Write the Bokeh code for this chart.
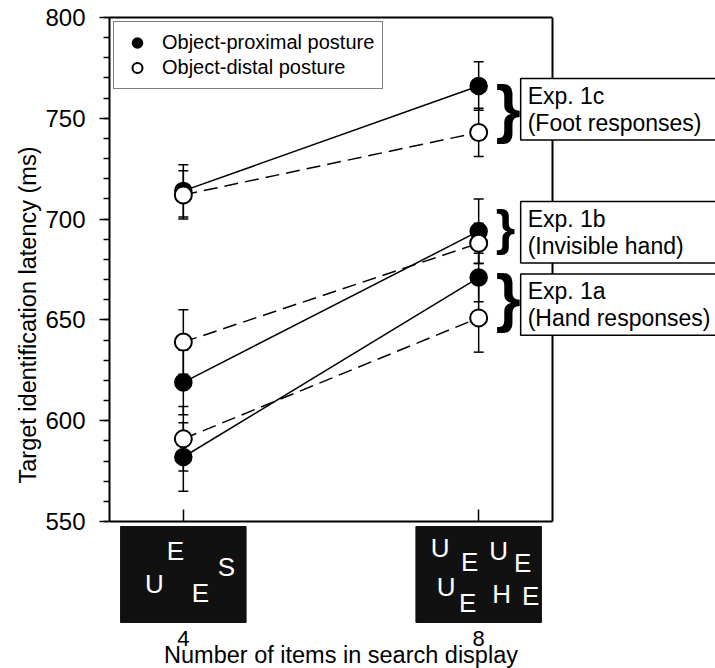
from bokeh.plotting import figure
from bokeh.models import (ColumnDataSource, Whisker, TeeHead, Label, Legend, LegendItem, Title,
                          FixedTicker, SingleIntervalTicker, Range1d, LinearAxis)
from bokeh.embed import file_html
from bokeh.resources import INLINE
from bokeh.core.properties import value

FONT = "Liberation Sans"

# ---------------- data ----------------
set_size = [4, 8]
x_tick_labels = {4: "4", 8: "8"}
x_title = "Number of items in search display"
y_title = "Target identification latency (ms)"

exp_labels = ["Exp. 1a\n(Hand responses)", "Exp. 1b\n(Invisible hand)", "Exp. 1c\n(Foot responses)"]

proximal_1a = [582, 671]
proximal_1a_se = [17, 12]
distal_1a = [591, 651]
distal_1a_se = [16, 17]

proximal_1b = [619, 694]
proximal_1b_se = [16, 16]
distal_1b = [639, 688]
distal_1b_se = [16, 10]

proximal_1c = [714, 766]
proximal_1c_se = [13, 12]
distal_1c = [712, 743]
distal_1c_se = [12, 12]

# stimulus displays drawn under the x axis (letter offsets from display centre)
display4_letters = ["E", "U", "E", "S"]
display4_dx = [-0.108, -0.393, 0.230, 0.582]
display4_dy = [0.75, 0.396, 0.3125, 0.583]
display8_letters = ["U", "E", "U", "E", "U", "E", "H", "E"]
display8_dx = [-0.521, -0.122, 0.271, 0.596, -0.440, -0.149, 0.312, 0.704]
display8_dy = [0.781, 0.635, 0.740, 0.625, 0.375, 0.208, 0.292, 0.281]

# ---------------- layout / styling ----------------
label_yoffsets = [-7, 5, 0]
brace_sizes = ["64px", "50px", "64px"]
brace_yoffsets = [0, -9, 0]

x_start, x_end_axis = 3, 9          # plotted x extent (axes span this)
y_start_axis, y_end = 550, 800      # plotted y extent (axes span this)
frame_w, axis_w = 606, 443          # frame continues to the right for the labels
frame_h, axis_h = 651, 504          # frame continues below for pictures, tick labels, title
stim_h, stim_gap = 96, 46           # picture height, space under the pictures
x_title_gap = 32                    # distance of x title centre under the pictures

x_end = x_start + (x_end_axis - x_start) * frame_w / axis_w
y_start = y_start_axis - (frame_h - axis_h) * (y_end - y_start_axis) / axis_h

proximal = [proximal_1a, proximal_1b, proximal_1c]
proximal_se = [proximal_1a_se, proximal_1b_se, proximal_1c_se]
distal = [distal_1a, distal_1b, distal_1c]
distal_se = [distal_1a_se, distal_1b_se, distal_1c_se]

p = figure(frame_width=frame_w, frame_height=frame_h,
           x_range=Range1d(x_start, x_end), y_range=Range1d(y_start, y_end),
           min_border_left=109, min_border_right=0, min_border_top=17, min_border_bottom=0,
           x_axis_type=None, y_axis_type=None,
           output_backend="svg", toolbar_location=None)
p.outline_line_color = None
p.background_fill_color = "white"
p.border_fill_color = "white"
p.extra_y_ranges = {"stim": Range1d(-stim_gap / stim_h, (frame_h - stim_gap) / stim_h)}

# left axis
yaxis = LinearAxis(ticker=SingleIntervalTicker(interval=50, num_minor_ticks=5),
                   bounds=(y_start_axis, y_end))
yaxis.axis_line_width = 2
yaxis.axis_line_color = "black"
yaxis.major_tick_line_width = 1.5
yaxis.minor_tick_line_width = 1.5
yaxis.major_tick_line_color = "black"
yaxis.minor_tick_line_color = "black"
yaxis.major_tick_in = 0
yaxis.major_tick_out = 10
yaxis.minor_tick_in = 0
yaxis.minor_tick_out = 6
yaxis.major_label_standoff = 14
yaxis.major_label_text_font = FONT
yaxis.major_label_text_font_size = "24px"
yaxis.major_label_text_color = "black"
p.add_layout(yaxis, "left")

# y axis title
p.add_layout(Title(text=y_title, align="left", offset=185, standoff=4,
                   text_font=FONT, text_font_size="23.5px", text_font_style="normal",
                   text_color="black"), "left")

# x axis line at 550 with inward ticks
xaxis = LinearAxis(ticker=FixedTicker(ticks=set_size), fixed_location=y_start_axis,
                   bounds=(x_start, x_end_axis),
                   major_label_overrides={k: "" for k in set_size})
xaxis.axis_line_width = 2
xaxis.axis_line_color = "black"
xaxis.major_tick_line_width = 1.5
xaxis.major_tick_line_color = "black"
xaxis.major_tick_in = 12
xaxis.major_tick_out = 0
xaxis.minor_tick_line_color = None
p.add_layout(xaxis, "below")

# x tick labels directly under the stimulus pictures
xlab = LinearAxis(ticker=FixedTicker(ticks=set_size), major_label_overrides=x_tick_labels,
                  y_range_name="stim", fixed_location=0)
xlab.axis_line_color = None
xlab.major_tick_line_color = None
xlab.minor_tick_line_color = None
xlab.major_label_standoff = 2
xlab.major_label_text_font = FONT
xlab.major_label_text_font_size = "22px"
xlab.major_label_text_color = "black"
p.add_layout(xlab, "below")

# x axis title
p.add_layout(Label(x=(x_start + x_end_axis) / 2, y=-x_title_gap / stim_h, y_range_name="stim",
                   x_offset=10, text=x_title, text_align="center", text_baseline="middle",
                   text_font=FONT, text_font_size="23.5px", text_color="black"))

# top frame line
top = LinearAxis(ticker=FixedTicker(ticks=[]), bounds=(x_start, x_end_axis))
top.axis_line_width = 2
top.axis_line_color = "black"
top.major_tick_line_color = None
top.minor_tick_line_color = None
p.add_layout(top, "above")

# right frame line (only over the latency scale)
right = LinearAxis(ticker=FixedTicker(ticks=[]), fixed_location=x_end_axis,
                   bounds=(y_start_axis, y_end))
right.axis_line_width = 2
right.axis_line_color = "black"
right.major_tick_line_color = None
right.minor_tick_line_color = None
p.add_layout(right, "right")

# lines
for prox, dist in zip(proximal, distal):
    p.line(set_size, prox, line_color="black", line_width=1.5)
    p.line(set_size, dist, line_color="black", line_width=1.5, line_dash="14 7")

# error bars
wx, wup, wlo = [], [], []
for means, ses in zip(proximal + distal, proximal_se + distal_se):
    for xv, m, s in zip(set_size, means, ses):
        wx.append(xv)
        wup.append(m + s)
        wlo.append(m - s)
wsrc = ColumnDataSource(data=dict(x=wx, upper=wup, lower=wlo))
whisk = Whisker(base="x", upper="upper", lower="lower", source=wsrc,
                line_color="black", line_width=1.5,
                upper_head=TeeHead(size=10, line_width=1.5, line_color="black"),
                lower_head=TeeHead(size=10, line_width=1.5, line_color="black"))
p.add_layout(whisk)

# markers
prox_src = ColumnDataSource(data=dict(x=set_size * 3, y=sum(proximal, [])))
dist_src = ColumnDataSource(data=dict(x=set_size * 3, y=sum(distal, [])))
r_prox = p.scatter("x", "y", source=prox_src, marker="circle", size=17,
                   fill_color="black", line_color="black", line_width=1.5)
r_dist = p.scatter("x", "y", source=dist_src, marker="circle", size=17,
                   fill_color="white", line_color="black", line_width=2)

legend = Legend(items=[LegendItem(label="Object-proximal posture", renderers=[r_prox]),
                       LegendItem(label="Object-distal posture", renderers=[r_dist])],
                location="top_left")
legend.border_line_color = "black"
legend.border_line_width = 1.5
legend.background_fill_color = "white"
legend.background_fill_alpha = 1
legend.label_text_font = FONT
legend.label_text_font_size = "20px"
legend.label_text_color = "black"
legend.glyph_width = 30
legend.glyph_height = 25
legend.spacing = 0
legend.padding = 8
legend.margin = 4
legend.label_standoff = 10
p.add_layout(legend)

# braces grouping the two conditions at set size 8
brace_y = [(pr[1] + di[1]) / 2 for pr, di in zip(proximal, distal)]
brace_src = ColumnDataSource(data=dict(x=[set_size[1]] * 3, y=brace_y, t=["}"] * 3,
                                       fs=brace_sizes, dy=brace_yoffsets))
p.text(x="x", y="y", text="t", source=brace_src, x_offset=17, y_offset="dy",
       text_font=value(FONT), text_font_size="fs", text_font_style="bold",
       text_align="left", text_baseline="middle", text_color="black")

for txt, yv, dy in zip(exp_labels, brace_y, label_yoffsets):
    lab = Label(x=set_size[1], y=yv, x_offset=42, y_offset=dy, text=txt,
                text_font=FONT, text_font_size="23px", text_color="black",
                text_line_height=1.05,
                text_align="left", text_baseline="middle",
                background_fill_color="white", background_fill_alpha=1,
                border_line_color="black", border_line_width=1.5,
                padding=dict(left=7, right=40, top=4, bottom=4))
    p.add_layout(lab)

# stimulus pictures
p.rect(x=set_size, y=[0.5, 0.5], width=1.7, height=1.0, y_range_name="stim",
       fill_color="#111111", line_color="#111111")
lx = [set_size[0] + d for d in display4_dx] + [set_size[1] + d for d in display8_dx]
ly = display4_dy + display8_dy
lt = display4_letters + display8_letters
p.text(x=lx, y=ly, text=lt, y_range_name="stim", text_color="white", text_font=value(FONT),
       text_font_size="26px", text_align="center", text_baseline="middle")

open("out.html", "w").write(file_html(p, INLINE))
